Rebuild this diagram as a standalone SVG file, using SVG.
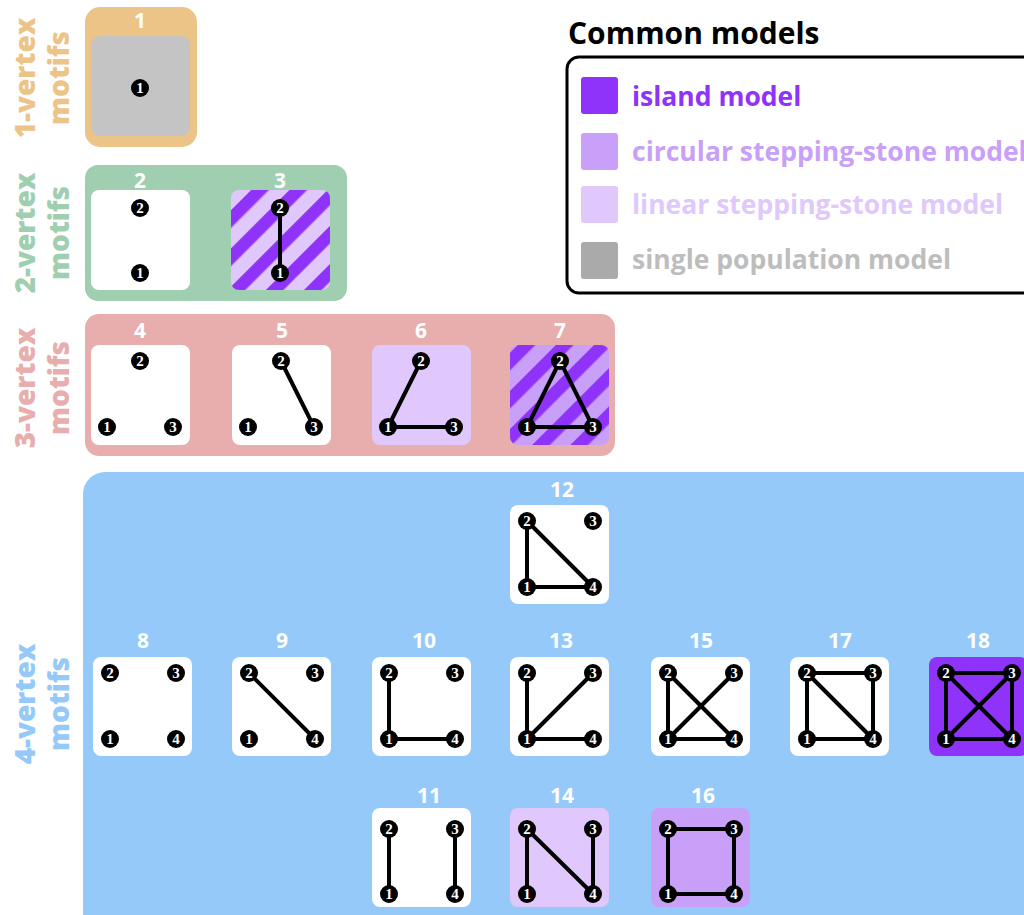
<svg xmlns="http://www.w3.org/2000/svg" width="1024" height="915" viewBox="0 0 1024 915">
<style>
.grp{stroke:none}
.lbl{font-family:"Open Sans","Noto Sans",sans-serif;font-weight:bold;font-size:21px;fill:#fff;text-anchor:middle}
.side{font-family:"Open Sans","Noto Sans",sans-serif;font-weight:800;font-size:28px;text-anchor:middle}
.box{fill:#fff}
.e{stroke:#000;stroke-width:4;stroke-linecap:round}
.n circle{fill:#000}
.n text{font-family:"Liberation Serif",serif;font-weight:bold;font-size:15px;fill:#fff;text-anchor:middle}
.leg{font-family:"Open Sans","Noto Sans",sans-serif;font-weight:bold;font-size:26.5px}
</style>
<defs>
<pattern id="stripeL" patternUnits="userSpaceOnUse" x="15" width="27" height="27" patternTransform="rotate(45)">
<rect x="0" y="0" width="27" height="27" fill="#E0C8FC"/>
<rect x="0" y="0" width="12.5" height="27" fill="#8F33FA"/>
</pattern>
<pattern id="stripeC" patternUnits="userSpaceOnUse" x="16" width="27" height="27" patternTransform="rotate(45)">
<rect x="0" y="0" width="27" height="27" fill="#C8A0F8"/>
<rect x="0" y="0" width="12.5" height="27" fill="#8F33FA"/>
</pattern>
</defs>
<rect width="1024" height="915" fill="#fff"/>

<g id="group1">
<rect class="grp" x="85" y="7" width="112" height="140" rx="15" fill="#EDC487"/>
<text class="side" fill="#EDC487" transform="translate(35,78) rotate(-90)">1-vertex</text>
<text class="side" fill="#EDC487" transform="translate(69,78) rotate(-90)">motifs</text>
</g>
<g id="group2">
<rect class="grp" x="85" y="165" width="262" height="136" rx="13" fill="#9FCFB0"/>
<text class="side" fill="#9FCFB0" transform="translate(35,233) rotate(-90)">2-vertex</text>
<text class="side" fill="#9FCFB0" transform="translate(69,233) rotate(-90)">motifs</text>
</g>
<g id="group3">
<rect class="grp" x="85" y="314" width="530" height="142" rx="14" fill="#E8ADAD"/>
<text class="side" fill="#E8ADAD" transform="translate(35,388) rotate(-90)">3-vertex</text>
<text class="side" fill="#E8ADAD" transform="translate(69,388) rotate(-90)">motifs</text>
</g>
<g id="group4">
<rect class="grp" x="83" y="472" width="980" height="470" rx="22" fill="#94C9F9"/>
<text class="side" fill="#94C9F9" transform="translate(35,704) rotate(-90)">4-vertex</text>
<text class="side" fill="#94C9F9" transform="translate(69,704) rotate(-90)">motifs</text>
</g>

<g id="legend">
<text x="568" y="44" font-family="'Open Sans', 'Noto Sans', sans-serif" font-weight="bold" font-size="30" fill="#000">Common models</text>
<rect x="567" y="57" width="500" height="236" rx="12" fill="#fff" stroke="#000" stroke-width="3"/>
<rect x="581" y="77" width="37" height="37" rx="3" fill="#8F33FA"/>
<text class="leg" x="632" y="106" fill="#8F33FA">island model</text>
<rect x="581" y="133" width="37" height="37" rx="3" fill="#C8A0F8"/>
<text class="leg" x="632" y="161" fill="#C8A0F8">circular stepping-stone model</text>
<rect x="581" y="186" width="37" height="37" rx="3" fill="#E0C8FC"/>
<text class="leg" x="632" y="214" fill="#E0C8FC">linear stepping-stone model</text>
<rect x="581" y="242" width="37" height="37" rx="3" fill="#AAAAAA"/>
<text class="leg" x="632" y="269" fill="#BDBDBD">single population model</text>
</g>

<g id="motif1">
<text class="lbl" x="140" y="28">1</text>
<rect x="91" y="36" width="99" height="100" rx="9" fill="#C4C4C4"/>
<g class="n"><circle cx="140" cy="88" r="9"/><text x="140" y="93">1</text></g>
</g>

<g id="motif2">
<text class="lbl" x="140" y="188">2</text>
<rect class="box" x="91" y="190" width="99" height="100" rx="8"/>
<g class="n"><circle cx="140" cy="208" r="9"/><text x="140" y="213">2</text></g>
<g class="n"><circle cx="140" cy="273" r="9"/><text x="140" y="278">1</text></g>
</g>

<g id="motif3">
<text class="lbl" x="280" y="188">3</text>
<rect x="231" y="190" width="99" height="100" rx="8" fill="url(#stripeL)"/>
<g id="edges3"><line class="e" x1="280" y1="208" x2="280" y2="273"/></g>
<g class="n"><circle cx="280" cy="208" r="9"/><text x="280" y="213">2</text></g>
<g class="n"><circle cx="280" cy="273" r="9"/><text x="280" y="278">1</text></g>
</g>

<g id="motif4">
<text class="lbl" x="140" y="338">4</text>
<rect class="box" x="91" y="345" width="99" height="100" rx="8"/>
<g class="n"><circle cx="140" cy="361" r="9"/><text x="140" y="366">2</text></g>
<g class="n"><circle cx="107" cy="427" r="9"/><text x="107" y="432">1</text></g>
<g class="n"><circle cx="173" cy="427" r="9"/><text x="173" y="432">3</text></g>
</g>

<g id="motif5">
<text class="lbl" x="282" y="338">5</text>
<rect class="box" x="232" y="345" width="99" height="100" rx="8"/>
<g id="edges5"><line class="e" x1="281" y1="361" x2="314" y2="427"/></g>
<g class="n"><circle cx="281" cy="361" r="9"/><text x="281" y="366">2</text></g>
<g class="n"><circle cx="248" cy="427" r="9"/><text x="248" y="432">1</text></g>
<g class="n"><circle cx="314" cy="427" r="9"/><text x="314" y="432">3</text></g>
</g>

<g id="motif6">
<text class="lbl" x="421" y="338">6</text>
<rect x="372" y="345" width="99" height="100" rx="8" fill="#E0C8FC"/>
<g id="edges6"><line class="e" x1="421" y1="361" x2="388" y2="427"/><line class="e" x1="388" y1="427" x2="454" y2="427"/></g>
<g class="n"><circle cx="421" cy="361" r="9"/><text x="421" y="366">2</text></g>
<g class="n"><circle cx="388" cy="427" r="9"/><text x="388" y="432">1</text></g>
<g class="n"><circle cx="454" cy="427" r="9"/><text x="454" y="432">3</text></g>
</g>

<g id="motif7">
<text class="lbl" x="560" y="338">7</text>
<rect x="510" y="345" width="99" height="100" rx="8" fill="url(#stripeC)"/>
<g id="edges7"><line class="e" x1="560" y1="361" x2="527" y2="427"/><line class="e" x1="527" y1="427" x2="593" y2="427"/><line class="e" x1="560" y1="361" x2="593" y2="427"/></g>
<g class="n"><circle cx="560" cy="361" r="9"/><text x="560" y="366">2</text></g>
<g class="n"><circle cx="527" cy="427" r="9"/><text x="527" y="432">1</text></g>
<g class="n"><circle cx="593" cy="427" r="9"/><text x="593" y="432">3</text></g>
</g>

<g id="motif12">
<text class="lbl" x="562" y="497">12</text>
<rect class="box" x="510" y="505" width="99" height="99" rx="8"/>
<g id="edges12"><line class="e" x1="527" y1="521" x2="527" y2="587"/><line class="e" x1="527" y1="521" x2="593" y2="587"/><line class="e" x1="527" y1="587" x2="593" y2="587"/></g>
<g class="n"><circle cx="527" cy="521" r="9"/><text x="527" y="526">2</text></g>
<g class="n"><circle cx="593" cy="521" r="9"/><text x="593" y="526">3</text></g>
<g class="n"><circle cx="527" cy="587" r="9"/><text x="527" y="592">1</text></g>
<g class="n"><circle cx="593" cy="587" r="9"/><text x="593" y="592">4</text></g>
</g>

<g id="motif8">
<text class="lbl" x="143" y="648">8</text>
<rect class="box" x="93" y="657" width="99" height="99" rx="8"/>
<g class="n"><circle cx="110" cy="673" r="9"/><text x="110" y="678">2</text></g>
<g class="n"><circle cx="176" cy="673" r="9"/><text x="176" y="678">3</text></g>
<g class="n"><circle cx="110" cy="739" r="9"/><text x="110" y="744">1</text></g>
<g class="n"><circle cx="176" cy="739" r="9"/><text x="176" y="744">4</text></g>
</g>

<g id="motif9">
<text class="lbl" x="282" y="648">9</text>
<rect class="box" x="232" y="657" width="99" height="99" rx="8"/>
<g id="edges9"><line class="e" x1="249" y1="673" x2="315" y2="739"/></g>
<g class="n"><circle cx="249" cy="673" r="9"/><text x="249" y="678">2</text></g>
<g class="n"><circle cx="315" cy="673" r="9"/><text x="315" y="678">3</text></g>
<g class="n"><circle cx="249" cy="739" r="9"/><text x="249" y="744">1</text></g>
<g class="n"><circle cx="315" cy="739" r="9"/><text x="315" y="744">4</text></g>
</g>

<g id="motif10">
<text class="lbl" x="424" y="648">10</text>
<rect class="box" x="372" y="657" width="99" height="99" rx="8"/>
<g id="edges10"><line class="e" x1="389" y1="673" x2="389" y2="739"/><line class="e" x1="389" y1="739" x2="455" y2="739"/></g>
<g class="n"><circle cx="389" cy="673" r="9"/><text x="389" y="678">2</text></g>
<g class="n"><circle cx="455" cy="673" r="9"/><text x="455" y="678">3</text></g>
<g class="n"><circle cx="389" cy="739" r="9"/><text x="389" y="744">1</text></g>
<g class="n"><circle cx="455" cy="739" r="9"/><text x="455" y="744">4</text></g>
</g>

<g id="motif13">
<text class="lbl" x="561" y="648">13</text>
<rect class="box" x="510" y="657" width="99" height="99" rx="8"/>
<g id="edges13"><line class="e" x1="527" y1="673" x2="527" y2="739"/><line class="e" x1="527" y1="739" x2="593" y2="673"/><line class="e" x1="527" y1="739" x2="593" y2="739"/></g>
<g class="n"><circle cx="527" cy="673" r="9"/><text x="527" y="678">2</text></g>
<g class="n"><circle cx="593" cy="673" r="9"/><text x="593" y="678">3</text></g>
<g class="n"><circle cx="527" cy="739" r="9"/><text x="527" y="744">1</text></g>
<g class="n"><circle cx="593" cy="739" r="9"/><text x="593" y="744">4</text></g>
</g>

<g id="motif15">
<text class="lbl" x="701" y="648">15</text>
<rect class="box" x="651" y="657" width="99" height="99" rx="8"/>
<g id="edges15"><line class="e" x1="668" y1="673" x2="668" y2="739"/><line class="e" x1="668" y1="673" x2="734" y2="739"/><line class="e" x1="668" y1="739" x2="734" y2="673"/><line class="e" x1="668" y1="739" x2="734" y2="739"/></g>
<g class="n"><circle cx="668" cy="673" r="9"/><text x="668" y="678">2</text></g>
<g class="n"><circle cx="734" cy="673" r="9"/><text x="734" y="678">3</text></g>
<g class="n"><circle cx="668" cy="739" r="9"/><text x="668" y="744">1</text></g>
<g class="n"><circle cx="734" cy="739" r="9"/><text x="734" y="744">4</text></g>
</g>

<g id="motif17">
<text class="lbl" x="840" y="648">17</text>
<rect class="box" x="790" y="657" width="99" height="99" rx="8"/>
<g id="edges17"><line class="e" x1="807" y1="673" x2="873" y2="673"/><line class="e" x1="807" y1="673" x2="807" y2="739"/><line class="e" x1="807" y1="673" x2="873" y2="739"/><line class="e" x1="873" y1="673" x2="873" y2="739"/><line class="e" x1="807" y1="739" x2="873" y2="739"/></g>
<g class="n"><circle cx="807" cy="673" r="9"/><text x="807" y="678">2</text></g>
<g class="n"><circle cx="873" cy="673" r="9"/><text x="873" y="678">3</text></g>
<g class="n"><circle cx="807" cy="739" r="9"/><text x="807" y="744">1</text></g>
<g class="n"><circle cx="873" cy="739" r="9"/><text x="873" y="744">4</text></g>
</g>

<g id="motif18">
<text class="lbl" x="978" y="648">18</text>
<rect x="929" y="657" width="99" height="99" rx="8" fill="#8F33FA"/>
<g id="edges18"><line class="e" x1="946" y1="673" x2="1012" y2="673"/><line class="e" x1="946" y1="673" x2="946" y2="739"/><line class="e" x1="946" y1="673" x2="1012" y2="739"/><line class="e" x1="1012" y1="673" x2="1012" y2="739"/><line class="e" x1="946" y1="739" x2="1012" y2="739"/><line class="e" x1="946" y1="739" x2="1012" y2="673"/></g>
<g class="n"><circle cx="946" cy="673" r="9"/><text x="946" y="678">2</text></g>
<g class="n"><circle cx="1012" cy="673" r="9"/><text x="1012" y="678">3</text></g>
<g class="n"><circle cx="946" cy="739" r="9"/><text x="946" y="744">1</text></g>
<g class="n"><circle cx="1012" cy="739" r="9"/><text x="1012" y="744">4</text></g>
</g>

<g id="motif11">
<text class="lbl" x="429" y="803">11</text>
<rect class="box" x="372" y="808" width="99" height="99" rx="8"/>
<g id="edges11"><line class="e" x1="389" y1="829" x2="389" y2="894"/><line class="e" x1="455" y1="829" x2="455" y2="894"/></g>
<g class="n"><circle cx="389" cy="829" r="9"/><text x="389" y="834">2</text></g>
<g class="n"><circle cx="455" cy="829" r="9"/><text x="455" y="834">3</text></g>
<g class="n"><circle cx="389" cy="894" r="9"/><text x="389" y="899">1</text></g>
<g class="n"><circle cx="455" cy="894" r="9"/><text x="455" y="899">4</text></g>
</g>

<g id="motif14">
<text class="lbl" x="562" y="803">14</text>
<rect x="510" y="808" width="99" height="99" rx="8" fill="#E0C8FC"/>
<g id="edges14"><line class="e" x1="527" y1="829" x2="527" y2="894"/><line class="e" x1="527" y1="829" x2="593" y2="894"/><line class="e" x1="593" y1="829" x2="593" y2="894"/></g>
<g class="n"><circle cx="527" cy="829" r="9"/><text x="527" y="834">2</text></g>
<g class="n"><circle cx="593" cy="829" r="9"/><text x="593" y="834">3</text></g>
<g class="n"><circle cx="527" cy="894" r="9"/><text x="527" y="899">1</text></g>
<g class="n"><circle cx="593" cy="894" r="9"/><text x="593" y="899">4</text></g>
</g>

<g id="motif16">
<text class="lbl" x="703" y="803">16</text>
<rect x="651" y="808" width="99" height="99" rx="8" fill="#C8A0F8"/>
<g id="edges16"><line class="e" x1="668" y1="829" x2="734" y2="829"/><line class="e" x1="668" y1="829" x2="668" y2="894"/><line class="e" x1="734" y1="829" x2="734" y2="894"/><line class="e" x1="668" y1="894" x2="734" y2="894"/></g>
<g class="n"><circle cx="668" cy="829" r="9"/><text x="668" y="834">2</text></g>
<g class="n"><circle cx="734" cy="829" r="9"/><text x="734" y="834">3</text></g>
<g class="n"><circle cx="668" cy="894" r="9"/><text x="668" y="899">1</text></g>
<g class="n"><circle cx="734" cy="894" r="9"/><text x="734" y="899">4</text></g>
</g>
</svg>
